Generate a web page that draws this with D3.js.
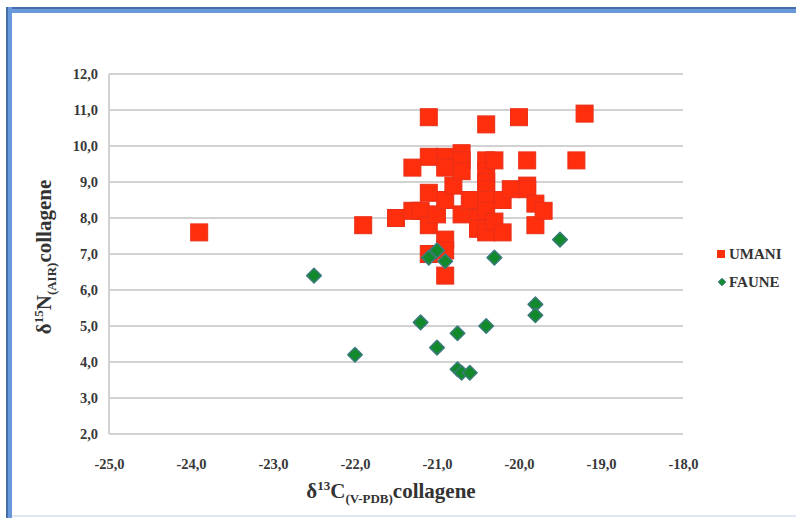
<!DOCTYPE html>
<html>
<head>
<meta charset="utf-8">
<script src="https://cdn.jsdelivr.net/npm/d3@7"></script>
<style>
  body { margin: 0; background: #fff; }
  svg { display: block; }
</style>
</head>
<body>
<svg id="chart"></svg>
<script>
// chart size
var W = 796, H = 518;
var svg = d3.select("#chart").attr("width", W).attr("height", H);

// data: [d13C, d15N]
var umani = [
  [-23.9, 7.6], [-21.9, 7.8], [-21.5, 8.0], [-21.3, 8.2], [-21.2, 8.2],
  [-21.3, 9.4], [-21.1, 10.8], [-21.1, 9.7], [-21.1, 8.7], [-21.1, 7.8],
  [-21.1, 7.0], [-21.0, 8.1], [-20.9, 9.7], [-20.9, 9.4], [-20.9, 8.5],
  [-20.9, 7.4], [-20.9, 7.1], [-20.9, 6.4], [-20.8, 8.9], [-20.7, 9.8],
  [-20.7, 9.6], [-20.7, 9.3], [-20.7, 8.1], [-20.6, 8.5], [-20.5, 8.0],
  [-20.5, 7.7], [-20.4, 10.6], [-20.4, 9.6], [-20.4, 9.3], [-20.4, 9.0],
  [-20.4, 8.8], [-20.4, 8.5], [-20.4, 8.2], [-20.4, 7.6], [-20.3, 9.6],
  [-20.3, 7.9], [-20.2, 8.5], [-20.2, 7.6], [-20.1, 8.8], [-20.0, 10.8],
  [-19.9, 9.6], [-19.9, 8.9], [-19.9, 8.8], [-19.8, 8.4], [-19.8, 7.8],
  [-19.7, 8.2], [-19.3, 9.6], [-19.2, 10.9]
];
var faune = [
  [-22.5, 6.4], [-22.0, 4.2], [-21.2, 5.1], [-21.1, 6.9], [-21.0, 7.1],
  [-20.9, 6.8], [-21.0, 4.4], [-20.75, 4.8], [-20.4, 5.0], [-20.3, 6.9],
  [-20.75, 3.8], [-20.7, 3.7], [-20.6, 3.7], [-19.8, 5.6], [-19.8, 5.3],
  [-19.5, 7.4]
];
var xTicks = [-25, -24, -23, -22, -21, -20, -19, -18];
var yTicks = [2, 3, 4, 5, 6, 7, 8, 9, 10, 11, 12];
var legendNames = ["UMANI", "FAUNE"];

var serif = "'Liberation Serif', 'Times New Roman', serif";
var red = "#ff2e0c", redEdge = "#e8301a",
    green = "#128a2c", greenEdge = "#3a7a7a";

// frame
svg.append("rect").attr("x", 0).attr("y", 0).attr("width", W).attr("height", H).attr("fill", "#fff");
svg.append("rect").attr("x", 6).attr("y", 7).attr("width", W - 6).attr("height", 6).attr("fill", "#6a98dc");
svg.append("rect").attr("x", 6).attr("y", 7).attr("width", W - 6).attr("height", 2).attr("fill", "#466ea8");
svg.append("rect").attr("x", 6).attr("y", 7).attr("width", 6).attr("height", H - 7).attr("fill", "#6a98dc");
svg.append("rect").attr("x", 6).attr("y", 7).attr("width", 2).attr("height", H - 7).attr("fill", "#466ea8");
svg.append("rect").attr("x", 12).attr("y", 515).attr("width", W - 12).attr("height", 2).attr("fill", "#dfe7f1");

var margin = {left: 109, top: 74, right: 113, bottom: 84};
var x = d3.scaleLinear().domain([-25, -18]).range([margin.left, W - margin.right]);
var y = d3.scaleLinear().domain([2, 12]).range([H - margin.bottom, margin.top]);

// comma decimals and a plain hyphen for the minus sign
var fmt = function(d){ return d.toFixed(1).replace(".", ","); };

// grid
svg.append("g").selectAll("line")
  .data(yTicks).enter().append("line")
  .attr("x1", x(-25)).attr("x2", x(-18))
  .attr("y1", function(d){ return y(d); }).attr("y2", function(d){ return y(d); })
  .attr("stroke", "#d2d2d2").attr("stroke-width", 2);
svg.append("line")
  .attr("x1", x(-25)).attr("x2", x(-25)).attr("y1", y(12)).attr("y2", y(2))
  .attr("stroke", "#d2d2d2").attr("stroke-width", 2);

// axes (labels only)
var yAxis = svg.append("g").attr("transform", "translate(" + x(-25) + ",0)")
  .call(d3.axisLeft(y).tickValues(yTicks).tickFormat(fmt).tickSize(0).tickPadding(11));
var xAxis = svg.append("g").attr("transform", "translate(0," + y(2) + ")")
  .call(d3.axisBottom(x).tickValues(xTicks).tickFormat(fmt).tickSize(0).tickPadding(25));
[yAxis, xAxis].forEach(function(a){
  a.attr("font-family", null).attr("font-size", null);
  a.select(".domain").remove();
  a.selectAll("text")
    .style("font-family", serif).style("font-weight", "bold")
    .style("font-size", "14.5px").attr("fill", "#383838");
});

// axis titles
var xt = svg.append("text").attr("x", 391).attr("y", 498).attr("text-anchor", "middle")
  .style("font-family", serif).style("font-weight", "bold")
  .style("font-size", "21px").attr("fill", "#333");
xt.append("tspan").text("δ");
xt.append("tspan").attr("dy", -8).style("font-size", "13px").text("13");
xt.append("tspan").attr("dy", 8).text("C");
xt.append("tspan").attr("dy", 5).style("font-size", "13px").text("(V-PDB)");
xt.append("tspan").attr("dy", -5).text("collagene");

var yt = svg.append("text").attr("transform", "translate(51,257) rotate(-90)").attr("text-anchor", "middle")
  .style("font-family", serif).style("font-weight", "bold")
  .style("font-size", "21px").attr("fill", "#333");
yt.append("tspan").text("δ");
yt.append("tspan").attr("dy", -8).style("font-size", "13px").text("15");
yt.append("tspan").attr("dy", 8).text("N");
yt.append("tspan").attr("dy", 5).style("font-size", "13px").text("(AIR)");
yt.append("tspan").attr("dy", -5).text("collagene");

// points
var sq = 17;
svg.append("g").selectAll("rect")
  .data(umani).enter().append("rect")
  .attr("x", function(d){ return x(d[0]) - sq / 2; })
  .attr("y", function(d){ return y(d[1]) - sq / 2; })
  .attr("width", sq).attr("height", sq)
  .attr("fill", red).attr("stroke", redEdge).attr("stroke-width", 1);

var dia = d3.symbol().type(d3.symbolDiamond2).size(135);
svg.append("g").selectAll("path")
  .data(faune).enter().append("path")
  .attr("d", dia)
  .attr("transform", function(d){ return "translate(" + x(d[0]) + "," + y(d[1]) + ")"; })
  .attr("fill", green).attr("stroke", greenEdge).attr("stroke-width", 1.5).attr("stroke-linejoin", "round");

// legend
var lg = svg.append("g").attr("transform", "translate(721,0)");
lg.append("rect").attr("x", -4).attr("y", 250).attr("width", 8).attr("height", 8).attr("fill", red);
lg.append("path").attr("d", d3.symbol().type(d3.symbolDiamond2).size(36))
  .attr("transform", "translate(1,282)").attr("fill", green).attr("stroke", greenEdge);
lg.selectAll("text").data(legendNames).enter().append("text")
  .attr("x", 8).attr("y", function(d, i){ return 259 + i * 28; })
  .style("font-family", serif).style("font-weight", "bold")
  .style("font-size", "15px").attr("fill", "#333")
  .text(function(d){ return d; });
</script>
</body>
</html>
